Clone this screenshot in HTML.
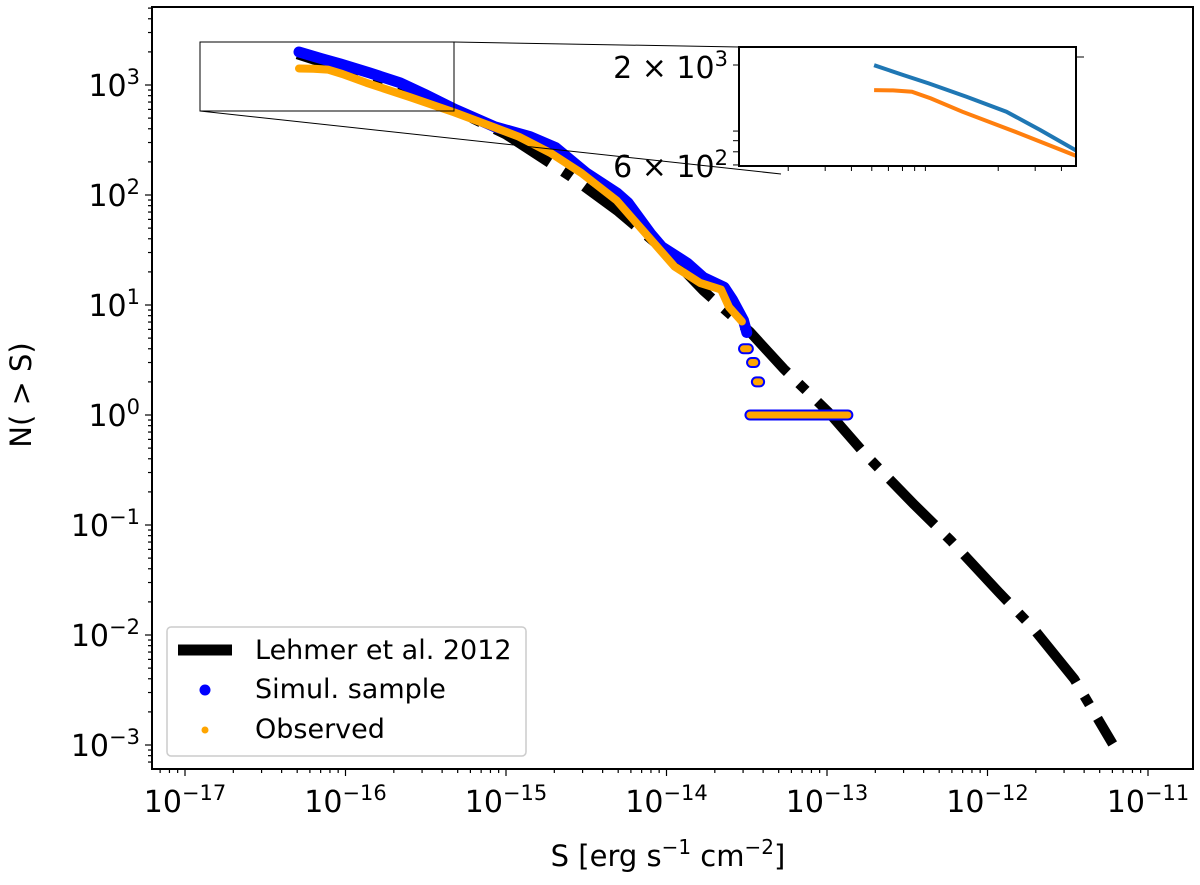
<!DOCTYPE html>
<html><head><meta charset="utf-8"><style>
body{margin:0;background:#fff;}
svg text{font-family:"DejaVu Sans","Liberation Sans",sans-serif;}
</style></head><body>
<svg id="chart" width="1200" height="880" xmlns="http://www.w3.org/2000/svg">
<defs>
<clipPath id="mainclip"><rect x="152" y="7" width="1041" height="762"/></clipPath>
<clipPath id="insetclip"><rect x="739" y="47" width="337" height="119"/></clipPath>
</defs>
<g id="main" clip-path="url(#mainclip)"></g>
<g id="inset" clip-path="url(#insetclip)"></g>
<g id="axes"></g>
</svg>
<script>
// ---- data (log10 S, log10 N) ----
const lehmerLogS = [-16.3,-15.5,-15.0,-14.6,-14.3,-14.0,-13.77,-13.48,-13.27,-12.99,-12.76,-12.46,-12.23,-11.93,-11.72,-11.46,-11.22];
const lehmerLogN = [3.28,2.9,2.55,2.17,1.85,1.48,1.13,0.755,0.42,0.025,-0.36,-0.81,-1.14,-1.61,-1.93,-2.40,-2.99];
const simLogS = [-16.29,-16.15,-16.03,-15.85,-15.66,-15.5,-15.32,-15.07,-14.85,-14.69,-14.50,-14.31,-14.24,-14.1,-14.03,-13.87,-13.77,-13.64,-13.59,-13.52,-13.50];
const simLogN = [3.30,3.24,3.19,3.11,3.02,2.91,2.78,2.62,2.53,2.43,2.20,2.02,1.93,1.65,1.53,1.38,1.25,1.16,1.05,0.86,0.75];
const obsLogS = [-16.29,-16.2,-16.11,-16.02,-15.87,-15.6,-15.32,-15.1,-14.92,-14.72,-14.53,-14.31,-14.13,-13.95,-13.79,-13.66,-13.61,-13.53];
const obsLogN = [3.15,3.148,3.14,3.10,3.02,2.89,2.75,2.63,2.53,2.38,2.20,1.95,1.65,1.35,1.20,1.14,0.98,0.85];
const tailStartS = [-13.52,-13.47,-13.44,-13.48];
const tailEndS   = [-13.49,-13.45,-13.42,-12.87];
const tailN      = [4,3,2,1];
const xTickExp = [-17,-16,-15,-14,-13,-12,-11];
const yTickExp = [3,2,1,0,-1,-2,-3];
const insetYTicks = [2000,800,700,600,500];
const insetXTicks = [2e-17,3e-17,4e-17,5e-17,6e-17,7e-17,8e-17,9e-17,2e-16,3e-16,4e-16];

const NS='http://www.w3.org/2000/svg';
const X0=185, XD=160.5, Y0=85, YD=110;
const xs = l => X0 + (l+17)*XD;
const ys = l => Y0 + (3-l)*YD;
const IX0=935, IXD=210, IY0=65, IYD=166;
const ixs = l => IX0 + (l+16)*IXD;
const iys = l => IY0 + (Math.log10(2000)-l)*IYD;

function mk(tag, attrs, parent){const e=document.createElementNS(NS,tag);for(const k in attrs)e.setAttribute(k,attrs[k]);parent.appendChild(e);return e;}
const main=document.getElementById('main'), inset=document.getElementById('inset'), axes=document.getElementById('axes');

function pathD(sx,sy,fx,fy){return sx.map((v,i)=>(i?'L':'M')+fx(v).toFixed(1)+','+fy(sy[i]).toFixed(1)).join(' ');}

let p=mk('path',{d:pathD(lehmerLogS,lehmerLogN,xs,ys),fill:'none',stroke:'#000','stroke-width':10,'stroke-dasharray':'64 16 10 16'},main);


p=mk('path',{d:pathD(simLogS,simLogN,xs,ys),fill:'none',stroke:'#0000ff','stroke-width':11,'stroke-linecap':'round','stroke-linejoin':'round'},main);


p=mk('path',{d:pathD(obsLogS,obsLogN,xs,ys),fill:'none',stroke:'#ffa500','stroke-width':8,'stroke-linecap':'round','stroke-linejoin':'round'},main);


tailN.forEach((n,i)=>{
  const a=xs(tailStartS[i]), b=xs(tailEndS[i]), y=ys(Math.log10(n));
  let t=mk('line',{x1:a,y1:y,x2:b,y2:y,stroke:'#0000ff','stroke-width':11,'stroke-linecap':'round'},main);
  
  
  t=mk('line',{x1:a,y1:y,x2:b,y2:y,stroke:'#ffa500','stroke-width':7,'stroke-linecap':'round'},main);
  
  
});

let f=mk('rect',{x:152,y:7,width:1041,height:762,fill:'none',stroke:'#000','stroke-width':2},axes);


for(let e=-18;e<=-11;e++){
  for(let m=1;m<10;m++){
    const x=xs(e+Math.log10(m)); if(x<152||x>1193) continue;
    mk('line',{x1:x,y1:769,x2:x,y2:769+(m==1?7:4),stroke:'#000','stroke-width':1.2},axes);
  }
}
xTickExp.forEach(e=>{
  const t=mk('text',{x:xs(e),y:812,'font-size':30,'text-anchor':'middle'},axes);
  
  
  t.innerHTML='10<tspan dy="-12" font-size="21">−'+(-e)+'</tspan>';
});
for(let e=-4;e<=3;e++){
  for(let m=1;m<10;m++){
    const y=ys(e+Math.log10(m)); if(y<7||y>769) continue;
    mk('line',{x1:152,y1:y,x2:152-(m==1?7:4),y2:y,stroke:'#000','stroke-width':1.2},axes);
  }
}
yTickExp.forEach(e=>{
  const t=mk('text',{x:140,y:ys(e)+11,'font-size':30,'text-anchor':'end'},axes);
  
  
  t.innerHTML='10<tspan dy="-12" font-size="21">'+(e<0?'−'+(-e):e)+'</tspan>';
});
let tt=mk('text',{x:668,y:866,'font-size':29,'text-anchor':'middle'},axes);


tt.innerHTML='S [erg s<tspan dy="-12" font-size="20">−1</tspan><tspan dy="12"> cm</tspan><tspan dy="-12" font-size="20">−2</tspan><tspan dy="12">]</tspan>';
tt=mk('text',{x:0,y:0,'font-size':29,'text-anchor':'middle',transform:'translate(31,395) rotate(-90)'},axes);


tt.textContent='N( > S)';

let z=mk('rect',{x:200,y:42,width:254,height:69,fill:'none',stroke:'#000','stroke-width':1},axes);


z=mk('line',{x1:454,y1:42,x2:739,y2:47,stroke:'#000','stroke-width':1},axes);


z=mk('line',{x1:200,y1:111,x2:781,y2:174,stroke:'#000','stroke-width':1},axes);



let ib=document.createElementNS(NS,'rect');
ib.setAttribute('x',739);ib.setAttribute('y',47);ib.setAttribute('width',337);ib.setAttribute('height',119);ib.setAttribute('fill','#fff');


document.getElementById('chart').insertBefore(ib, inset);
p=mk('path',{d:pathD(simLogS,simLogN,ixs,iys),fill:'none',stroke:'#1f77b4','stroke-width':4},inset);


p=mk('path',{d:pathD(obsLogS,obsLogN,ixs,iys),fill:'none',stroke:'#ff7f0e','stroke-width':4},inset);


let ir=mk('rect',{x:739,y:47,width:337,height:119,fill:'none',stroke:'#000','stroke-width':2},axes);


insetYTicks.forEach(v=>{const y=iys(Math.log10(v));mk('line',{x1:739,y1:y,x2:733,y2:y,stroke:'#000','stroke-width':1},axes);});
mk('line',{x1:1076,y1:57,x2:1084,y2:57,stroke:'#000','stroke-width':1},axes);
insetXTicks.forEach(v=>{const x=ixs(Math.log10(v));mk('line',{x1:x,y1:166,x2:x,y2:171,stroke:'#000','stroke-width':1},axes);});
tt=mk('text',{x:728,y:78,'font-size':30,'text-anchor':'end'},axes);


tt.innerHTML='2 × 10<tspan dy="-12" font-size="21">3</tspan>';
tt=mk('text',{x:728,y:177,'font-size':30,'text-anchor':'end'},axes);


tt.innerHTML='6 × 10<tspan dy="-12" font-size="21">2</tspan>';

let lg=mk('g',{},axes);


mk('rect',{x:167,y:627,width:359,height:129,rx:4,fill:'#fff','fill-opacity':0.85,stroke:'#ccc','stroke-width':1.5},lg);
mk('line',{x1:178,y1:650,x2:232,y2:650,stroke:'#000','stroke-width':11},lg);
mk('circle',{cx:205,cy:690,r:5.5,fill:'#0000ff'},lg);
mk('circle',{cx:205,cy:730,r:3.5,fill:'#ffa500'},lg);
[['Lehmer et al. 2012',659],['Simul. sample',698],['Observed',738]].forEach(([s,y])=>{
  const t=mk('text',{x:255,y:y,'font-size':27},lg);
  
  
  t.textContent=s;
});
</script>
</body></html>
